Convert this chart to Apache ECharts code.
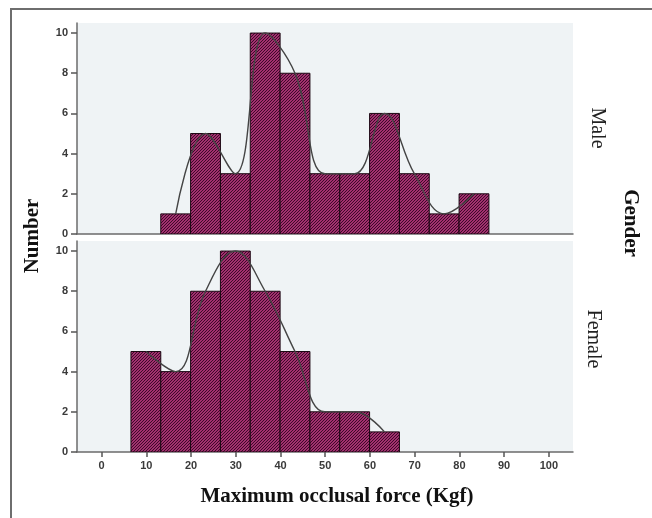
<!DOCTYPE html>
<html>
<head>
<meta charset="utf-8">
<script src="https://cdn.jsdelivr.net/npm/echarts@6/dist/echarts.min.js"></script>
<style>
html,body{margin:0;padding:0;background:#fff;}
#chart{width:652px;height:518px;}
</style>
</head>
<body>
<div id="chart"></div>
<script>
// Histogram bin edges (Kgf)
const binEdges = [6.56, 13.23, 19.9, 26.57, 33.24, 39.91, 46.58, 53.25, 59.92, 66.59, 73.26, 79.93, 86.6];
// Counts per bin
const maleCounts   = [0, 1, 5, 3, 10, 8, 3, 3, 6, 3, 1, 2];
const femaleCounts = [5, 4, 8, 10, 8, 5, 2, 2, 1, 0, 0, 0];
// Tick labels
const xTicks = [0, 10, 20, 30, 40, 50, 60, 70, 80, 90, 100];
const yTicks = [0, 2, 4, 6, 8, 10];
const panelNames = ['Male', 'Female'];

function barsData(counts) {
  const out = [];
  counts.forEach((c, i) => { if (c > 0) out.push([binEdges[i], binEdges[i + 1], c]); });
  return out;
}
function curveData(counts) {
  const out = [];
  counts.forEach((c, i) => { if (c > 0) out.push([(binEdges[i] + binEdges[i + 1]) / 2, c]); });
  return out;
}

// hatch pattern
const pc = document.createElement('canvas');
pc.width = 3; pc.height = 3;
const ctx = pc.getContext('2d');
ctx.fillStyle = '#a3306f';
ctx.fillRect(0, 0, 3, 3);
ctx.fillStyle = '#3d0b29';
ctx.fillRect(2, 0, 1, 1);
ctx.fillRect(1, 1, 1, 1);
ctx.fillRect(0, 2, 1, 1);
const hatch = { image: pc, repeat: 'repeat' };

function renderBar(params, api) {
  const x0 = api.value(0), x1 = api.value(1), c = api.value(2);
  const p0 = api.coord([x0, c]);
  const p1 = api.coord([x1, 0]);
  return {
    type: 'rect',
    shape: { x: p0[0], y: p0[1], width: p1[0] - p0[0], height: p1[1] - p0[1] },
    style: { fill: hatch, stroke: '#1c0612', lineWidth: 1 }
  };
}

const chart = echarts.init(document.getElementById('chart'), null, { renderer: 'canvas' });
const gridBase = { left: 77, width: 496, height: 211, show: true, backgroundColor: '#eff3f5', borderWidth: 0 };
const axisLineStyle = { color: '#6b6b6b', width: 1.5 };
const labelStyle = { fontFamily: 'Liberation Sans', fontSize: 11, color: '#3a3a3a', fontWeight: 'bold' };

function xAxisDef(idx, showLabels) {
  return {
    gridIndex: idx, type: 'value', min: -5.5, max: 105.4,
    axisLine: { show: true, onZero: false, lineStyle: axisLineStyle },
    axisTick: { show: showLabels, customValues: xTicks, length: 5, lineStyle: { color: '#555', width: 1.5 } },
    axisLabel: Object.assign({ show: showLabels, customValues: xTicks, margin: 8 }, labelStyle),
    splitLine: { show: false }
  };
}
function yAxisDef(idx) {
  return {
    gridIndex: idx, type: 'value', min: 0, max: 10.5,
    axisLine: { show: true, onZero: false, lineStyle: axisLineStyle },
    axisTick: { show: true, customValues: yTicks, length: 6, lineStyle: { color: '#555', width: 1.5 } },
    axisLabel: Object.assign({ customValues: yTicks, margin: 9 }, labelStyle),
    splitLine: { show: false }
  };
}
const lineStyle = { color: '#444444', width: 1.4 };

const option = {
  animation: false,
  backgroundColor: '#ffffff',
  grid: [
    Object.assign({ top: 23 }, gridBase),
    Object.assign({ top: 241 }, gridBase)
  ],
  xAxis: [xAxisDef(0, false), xAxisDef(1, true)],
  yAxis: [yAxisDef(0), yAxisDef(1)],
  series: [
    { type: 'custom', xAxisIndex: 0, yAxisIndex: 0, renderItem: renderBar, encode: { x: [0, 1], y: 2 }, data: barsData(maleCounts), clip: true, z: 2 },
    { type: 'line', xAxisIndex: 0, yAxisIndex: 0, data: curveData(maleCounts), smooth: 0.4, showSymbol: false, lineStyle: lineStyle, clip: true, z: 3 },
    { type: 'custom', xAxisIndex: 1, yAxisIndex: 1, renderItem: renderBar, encode: { x: [0, 1], y: 2 }, data: barsData(femaleCounts), clip: true, z: 2 },
    { type: 'line', xAxisIndex: 1, yAxisIndex: 1, data: curveData(femaleCounts), smooth: 0.4, showSymbol: false, lineStyle: lineStyle, clip: true, z: 3 }
  ],
  graphic: [
    { type: 'rect', shape: { x: 11, y: 9, width: 700, height: 600 }, style: { fill: 'none', stroke: '#6e6e6e', lineWidth: 2 }, silent: true },
    { type: 'text', x: 33, y: 236, rotation: Math.PI / 2,
      style: { text: 'Number', font: 'bold 21px "Liberation Serif"', fill: '#111', textAlign: 'center', textVerticalAlign: 'middle' } },
    { type: 'text', x: 630, y: 223, rotation: -Math.PI / 2,
      style: { text: 'Gender', font: 'bold 21px "Liberation Serif"', fill: '#111', textAlign: 'center', textVerticalAlign: 'middle' } },
    { type: 'text', x: 597, y: 128, rotation: -Math.PI / 2,
      style: { text: panelNames[0], font: '20px "Liberation Serif"', fill: '#222', textAlign: 'center', textVerticalAlign: 'middle' } },
    { type: 'text', x: 593, y: 339, rotation: -Math.PI / 2,
      style: { text: panelNames[1], font: '20px "Liberation Serif"', fill: '#222', textAlign: 'center', textVerticalAlign: 'middle' } },
    { type: 'text', x: 337, y: 497,
      style: { text: 'Maximum occlusal force (Kgf)', font: 'bold 21px "Liberation Serif"', fill: '#111', textAlign: 'center', textVerticalAlign: 'middle' } }
  ]
};
chart.setOption(option);
</script>
</body>
</html>
